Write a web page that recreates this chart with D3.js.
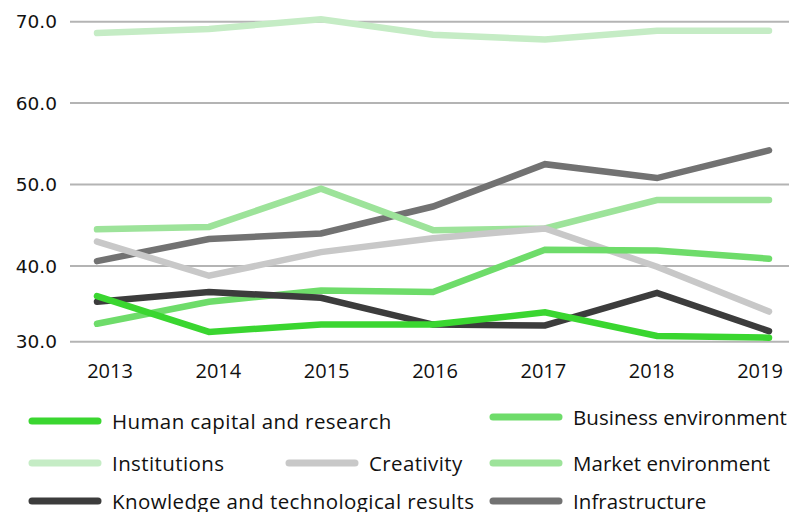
<!DOCTYPE html>
<html><head><meta charset="utf-8">
<script src="https://cdn.jsdelivr.net/npm/d3@7"></script>
<style>body{margin:0;background:#fff}svg{display:block}</style>
</head><body>
<svg id="c" width="789" height="512"></svg>
<script>
const years = ["2013","2014","2015","2016","2017","2018","2019"];
const yTickValues = [40, 50, 60, 70];
const yTickLabels = ["40.0", "50.0", "60.0", "70.0"];
const yBaseLabel = "30.0";
const yFloor = 30.7;

const institutions = [68.6, 69.1, 70.3, 68.4, 67.8, 68.9, 68.9];
const infrastructure = [40.6, 43.3, 44.0, 47.3, 52.5, 50.8, 54.2];
const marketEnv = [44.5, 44.8, 49.5, 44.4, 44.6, 48.1, 48.1];
const creativity = [43.0, 38.8, 41.7, 43.4, 44.6, 39.9, 34.4];
const businessEnv = [32.9, 35.6, 37.0, 36.8, 42.0, 41.9, 40.9];
const knowledge = [35.6, 36.8, 36.1, 32.8, 32.7, 36.7, 32.0];
const humanCapital = [36.3, 31.9, 32.8, 32.8, 34.3, 31.4, 31.2];

const seriesNames = ["Institutions","Infrastructure","Market environment","Creativity","Business environment","Knowledge and technological results","Human capital and research"];
const seriesValues = [institutions, infrastructure, marketEnv, creativity, businessEnv, knowledge, humanCapital];
const seriesColors = ["#c5ecc5","#727272","#9de39a","#c8c8c8","#6edc6a","#3c3c3c","#3ad630"];

const svg = d3.select("#c");
const x = d3.scalePoint().domain(years).range([97, 769]);
const xLab = d3.scalePoint().domain(years).range([110, 760]);
const y = d3.scaleLinear().domain([yFloor, 70]).range([341.7, 21.7]);

// grid
const gridVals = [yFloor].concat(yTickValues);
const gridLabs = [yBaseLabel].concat(yTickLabels);
svg.append("g").selectAll("line").data(gridVals).join("line")
  .attr("x1", 70).attr("x2", 789)
  .attr("y1", d => y(d)).attr("y2", d => y(d))
  .attr("stroke", "#b4b4b4").attr("stroke-width", 2);
svg.append("g").selectAll("text").data(gridVals).join("text")
  .attr("x", 57).attr("y", d => y(d)).attr("dy", "0.36em")
  .attr("text-anchor", "end")
  .style("font-family", "'DejaVu Sans', sans-serif").style("font-size", "18.5px")
  .attr("fill", "#111")
  .text((d, i) => gridLabs[i]);

// x labels
svg.append("g").selectAll("text").data(years).join("text")
  .attr("x", d => xLab(d)).attr("y", 378)
  .attr("text-anchor", "middle")
  .style("font-family", "'Open Sans', sans-serif").style("font-size", "20px")
  .attr("fill", "#111")
  .text(d => d);

// lines
const line = d3.line().x((d, i) => x(years[i])).y(d => y(d));
svg.append("g").selectAll("path").data(seriesValues).join("path")
  .attr("d", d => line(d))
  .attr("fill", "none")
  .attr("stroke", (d, i) => seriesColors[i])
  .attr("stroke-width", 6.5)
  .attr("stroke-linecap", "round")
  .attr("stroke-linejoin", "miter");

// legend
const legendOrder = [
  {k: 6, x: 32, y: 421},
  {k: 4, x: 493, y: 417},
  {k: 0, x: 32, y: 463},
  {k: 3, x: 289, y: 463},
  {k: 2, x: 493, y: 463},
  {k: 5, x: 32, y: 501},
  {k: 1, x: 493, y: 501}
];
const lg = svg.append("g").selectAll("g").data(legendOrder).join("g");
lg.append("line")
  .attr("x1", d => d.x).attr("x2", d => d.x + 66)
  .attr("y1", d => d.y).attr("y2", d => d.y)
  .attr("stroke", d => seriesColors[d.k]).attr("stroke-width", 7)
  .attr("stroke-linecap", "round");
lg.append("text")
  .attr("x", d => d.x + 80).attr("y", d => d.y + 7.5)
  .style("font-family", "'Open Sans', sans-serif").style("font-size", "20.5px")
  .style("letter-spacing", d => d.x > 400 ? "0.05px" : "0.4px")
  .attr("fill", "#111")
  .text(d => seriesNames[d.k]);
</script>
</body></html>
